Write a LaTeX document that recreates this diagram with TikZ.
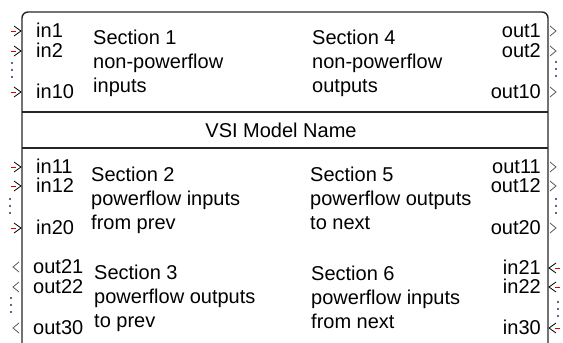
\documentclass[tikz,border=0pt]{standalone}
\usepackage{fontspec}
\setmainfont{Liberation Sans}
\begin{document}
\begin{tikzpicture}[x=1bp,y=-1bp,
  every node/.style={inner sep=0pt,font=\fontsize{20bp}{24bp}\selectfont},
  sectxt/.style={anchor=base west},
  portl/.style={anchor=base west},
  portr/.style={anchor=base east},
  frame/.style={line width=1.4bp,draw=black!85},
  chev/.style={line width=0.8bp,draw=black},
  chevg/.style={line width=0.8bp,draw=black!65},
  stub/.style={line width=0.9bp,draw=red!85!black},
  vdot/.style={fill={rgb,255:red,35;green,50;blue,100},draw=none}]
\useasboundingbox (0,0) rectangle (563,342);
\clip (0,0) rectangle (563,342);
% main block
\coordinate (bl) at (22,350);
\coordinate (tl) at (22,12);
\coordinate (tr) at (548,12);
\coordinate (br) at (548,350);
\draw[frame,rounded corners=6bp] (bl) -- (tl) -- (tr) -- (br);
% name band
\coordinate (b1l) at (22,112); \coordinate (b1r) at (548,112);
\coordinate (b2l) at (22,148); \coordinate (b2r) at (548,148);
\draw[frame] (b1l) -- (b1r);
\draw[frame] (b2l) -- (b2r);
\node (name) at (281,130) {VSI Model Name};
% section texts
\node[sectxt] (s1a) at (93,44) {Section 1};
\node[sectxt] (s1b) at (93,68) {non-powerflow};
\node[sectxt] (s1c) at (93,92) {inputs};
\node[sectxt] (s4a) at (312,44) {Section 4};
\node[sectxt] (s4b) at (312,68) {non-powerflow};
\node[sectxt] (s4c) at (312,92) {outputs};
\node[sectxt] (s2a) at (91,181) {Section 2};
\node[sectxt] (s2b) at (91,205) {powerflow inputs};
\node[sectxt] (s2c) at (91,229) {from prev};
\node[sectxt] (s5a) at (310,181) {Section 5};
\node[sectxt] (s5b) at (310,205) {powerflow outputs};
\node[sectxt] (s5c) at (310,229) {to next};
\node[sectxt] (s3a) at (94,279) {Section 3};
\node[sectxt] (s3b) at (94,303) {powerflow outputs};
\node[sectxt] (s3c) at (94,327) {to prev};
\node[sectxt] (s6a) at (311,280) {Section 6};
\node[sectxt] (s6b) at (311,304) {powerflow inputs};
\node[sectxt] (s6c) at (311,328) {from next};
% left inputs (sections 1 and 2)
\foreach \lab/\y in {in1/31,in2/51,in10/92,in11/167,in12/186,in20/228}{
  \node[portl] (l-\lab) at (36,\y+6) {\lab};
  \coordinate (a-\lab) at (11,\y);
  \coordinate (t-\lab) at (21,\y);
  \draw[stub] (a-\lab) -- ++(5,0);
  \draw[chev] ([shift={(-7,-5)}]t-\lab) -- (t-\lab) -- ([shift={(-7,5)}]t-\lab);
}
% right outputs (sections 4 and 5)
\foreach \lab/\y in {out1/31,out2/51,out10/92,out11/167,out12/186,out20/228}{
  \node[portr] (r-\lab) at (541,\y+6) {\lab};
  \coordinate (t-\lab) at (556,\y);
  \draw[chevg] ([shift={(-6,-5)}]t-\lab) -- (t-\lab) -- ([shift={(-6,5)}]t-\lab);
}
% left outputs (section 3)
\foreach \lab/\y in {out21/267,out22/287,out30/328}{
  \node[portl] (l-\lab) at (33,\y+6) {\lab};
  \coordinate (t-\lab) at (13,\y);
  \draw[chevg] ([shift={(6,-5)}]t-\lab) -- (t-\lab) -- ([shift={(6,5)}]t-\lab);
}
% right inputs (section 6)
\foreach \lab/\y in {in21/268,in22/287,in30/328}{
  \node[portr] (r-\lab) at (541,\y+6) {\lab};
  \coordinate (a-\lab) at (560,\y);
  \coordinate (t-\lab) at (549,\y);
  \draw[stub] (a-\lab) -- ++(-5,0);
  \draw[chev] ([shift={(7,-5)}]t-\lab) -- (t-\lab) -- ([shift={(7,5)}]t-\lab);
}
% vertical ellipses
\foreach \x/\y in {12/63,556/62,10/199,556/199,11/298,558/302}{
  \foreach \k in {0,7,14}{
    \fill[vdot] (\x,\y+\k) circle (1.1bp);
  }
}
\end{tikzpicture}
\end{document}
